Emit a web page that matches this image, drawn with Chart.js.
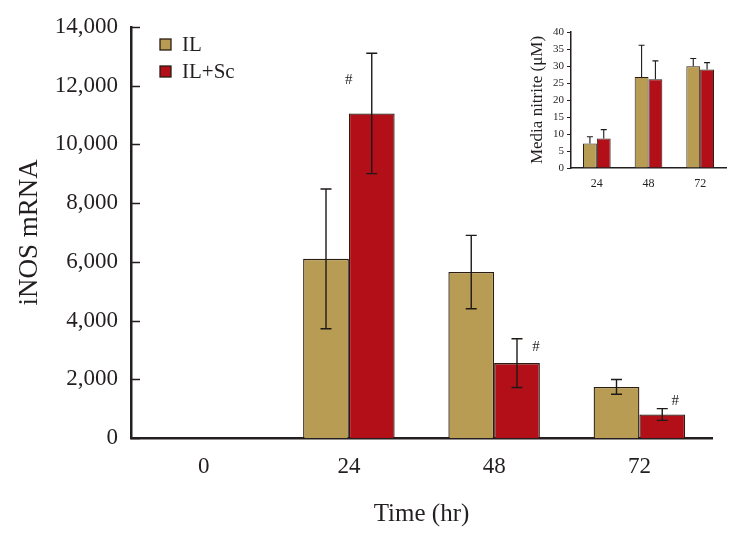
<!DOCTYPE html>
<html>
<head>
<meta charset="utf-8">
<script src="https://cdn.jsdelivr.net/npm/chart.js@4"></script>
<style>
  body { margin: 0; background: #fff; }
  #wrap { position: relative; width: 736px; height: 533px; }
  #mainChart { position: absolute; left: 0; top: 0; }
  #insetChart { position: absolute; left: 505px; top: 18px; }
</style>
</head>
<body>
<div id="wrap">
  <canvas id="mainChart" width="736" height="533"></canvas>
  <canvas id="insetChart" width="231" height="185"></canvas>
</div>
<script>
// main chart data (iNOS mRNA)
let categories = ['0', '24', '48', '72'];
let ilValues = [null, 6100, 5650, 1740];
let ilErrors = [null, 2380, 1250, 250];
let ilScValues = [null, 11050, 2550, 800];
let ilScErrors = [null, 2050, 830, 200];
// value level of the "#" marks over the IL+Sc bars
let hashLevels = [null, 12200, 3100, 1250];
let yTicks = [0, 2000, 4000, 6000, 8000, 10000, 12000, 14000];

// inset data (media nitrite)
let insetCategories = ['24', '48', '72'];
let insetIl = [7.2, 26.8, 29.9];
let insetIlErr = [2.0, 9.3, 2.3];
let insetSc = [8.7, 26.1, 29.0];
let insetScErr = [2.6, 5.4, 2.0];
let insetTicks = [0, 5, 10, 15, 20, 25, 30, 35, 40];

const GOLD = '#b89c53';
const RED = '#b20f19';
const EDGE = '#2a1c12';
const INK = '#231f20';
const SERIF = "'Liberation Serif', 'DejaVu Serif', serif";

Chart.defaults.font.family = SERIF;
Chart.defaults.color = INK;

// error bars drawn through the y scale
const errorBars = {
    id: 'errorBars',
    afterDatasetsDraw(chart, args, opts) {
        const ctx = chart.ctx;
        const y = chart.scales.y;
        ctx.save();
        ctx.strokeStyle = opts.color;
        ctx.lineWidth = opts.width;
        chart.data.datasets.forEach(function(ds, di) {
            const meta = chart.getDatasetMeta(di);
            const errs = opts.errors[di];
            meta.data.forEach(function(bar, i) {
                const v = ds.data[i];
                if (v == null || errs[i] == null) return;
                const top = y.getPixelForValue(v + errs[i]);
                const bottom = opts.upperOnly ? y.getPixelForValue(v) : y.getPixelForValue(v - errs[i]);
                ctx.beginPath();
                ctx.moveTo(bar.x, top);
                ctx.lineTo(bar.x, bottom);
                ctx.moveTo(bar.x - opts.cap / 2, top);
                ctx.lineTo(bar.x + opts.cap / 2, top);
                if (!opts.upperOnly) {
                    ctx.moveTo(bar.x - opts.cap / 2, bottom);
                    ctx.lineTo(bar.x + opts.cap / 2, bottom);
                }
                ctx.stroke();
            });
        });
        ctx.restore();
    }
};

// inward tick marks on the main y axis, "#" marks and the legend
const extras = {
    id: 'extras',
    afterDraw(chart) {
        const ctx = chart.ctx;
        const y = chart.scales.y;
        const area = chart.chartArea;
        ctx.save();
        ctx.strokeStyle = INK;
        ctx.lineWidth = 1.5;
        y.ticks.forEach(function(t) {
            const py = Math.round(y.getPixelForValue(t.value)) + 0.5;
            ctx.beginPath();
            ctx.moveTo(area.left, py);
            ctx.lineTo(area.left + 9, py);
            ctx.stroke();
        });

        // "#" next to the IL+Sc bars
        const meta = chart.getDatasetMeta(1);
        const hashDx = [0, -23, 19, 13];
        ctx.fillStyle = INK;
        ctx.font = '15px ' + SERIF;
        ctx.textAlign = 'center';
        ctx.textBaseline = 'middle';
        meta.data.forEach(function(bar, i) {
            if (hashLevels[i] == null) return;
            ctx.fillText('#', bar.x + hashDx[i], y.getPixelForValue(hashLevels[i]));
        });

        // legend
        ctx.font = '21px ' + SERIF;
        ctx.textAlign = 'left';
        chart.data.datasets.forEach(function(ds, di) {
            const cy = 45 + di * 27;
            ctx.fillStyle = ds.backgroundColor;
            ctx.fillRect(160, cy - 6, 11, 11);
            ctx.strokeStyle = EDGE;
            ctx.lineWidth = 1.3;
            ctx.strokeRect(160, cy - 6, 11, 11);
            ctx.fillStyle = INK;
            ctx.fillText(ds.label, 182, cy);
        });
        ctx.restore();
    }
};

new Chart(document.getElementById('mainChart'), {
    type: 'bar',
    data: {
        labels: categories,
        datasets: [
            { label: 'IL', data: ilValues, backgroundColor: GOLD, borderColor: EDGE, borderWidth: 1.3 },
            { label: 'IL+Sc', data: ilScValues, backgroundColor: RED, borderColor: EDGE, borderWidth: 1.3 }
        ]
    },
    options: {
        responsive: false,
        animation: false,
        devicePixelRatio: 1,
        layout: { padding: { left: 0, top: 22, right: 24, bottom: 0 } },
        datasets: { bar: { barPercentage: 1.0, categoryPercentage: 0.63 } },
        plugins: {
            legend: { display: false },
            tooltip: { enabled: false },
            errorBars: { errors: [ilErrors, ilScErrors], upperOnly: false, cap: 11, color: '#1e1a18', width: 1.4 }
        },
        scales: {
            x: {
                grid: { display: false, drawTicks: false },
                border: { display: true, color: INK, width: 2.5 },
                ticks: { font: { size: 23 }, padding: 15 },
                title: { display: true, text: 'Time (hr)', font: { size: 25 }, padding: { top: 18 } },
                afterFit: function(scale) { scale.height = 95; }
            },
            y: {
                min: 0,
                max: 14000,
                afterBuildTicks: function(scale) {
                    scale.ticks = yTicks.map(function(v) { return { value: v }; });
                },
                grid: { display: false, drawTicks: false },
                border: { display: true, color: INK, width: 2.5 },
                ticks: {
                    font: { size: 23 },
                    padding: 13,
                    callback: function(v) { return v.toLocaleString('en-US'); }
                },
                title: { display: true, text: 'iNOS mRNA', font: { size: 27 }, padding: { top: 14, bottom: 0 } },
                afterFit: function(scale) { scale.width = 131; }
            }
        }
    },
    plugins: [errorBars, extras]
});

new Chart(document.getElementById('insetChart'), {
    type: 'bar',
    data: {
        labels: insetCategories,
        datasets: [
            { label: 'IL', data: insetIl, backgroundColor: GOLD, borderColor: EDGE, borderWidth: 1 },
            { label: 'IL+Sc', data: insetSc, backgroundColor: RED, borderColor: EDGE, borderWidth: 1 }
        ]
    },
    options: {
        responsive: false,
        animation: false,
        devicePixelRatio: 1,
        layout: { padding: { left: 0, top: 14, right: 10, bottom: 0 } },
        datasets: { bar: { barPercentage: 1.0, categoryPercentage: 0.535 } },
        plugins: {
            legend: { display: false },
            tooltip: { enabled: false },
            errorBars: { errors: [insetIlErr, insetScErr], upperOnly: true, cap: 6, color: '#1e1a18', width: 1.1 }
        },
        scales: {
            x: {
                grid: { display: false, drawTicks: false },
                border: { display: true, color: INK, width: 1.5 },
                ticks: { font: { size: 12 }, padding: 9 },
                afterFit: function(scale) { scale.height = 35; }
            },
            y: {
                min: 0,
                max: 40,
                afterBuildTicks: function(scale) {
                    scale.ticks = insetTicks.map(function(v) { return { value: v }; });
                },
                ticks: { autoSkip: false, font: { size: 11 }, padding: 3 },
                grid: { display: true, drawOnChartArea: false, drawTicks: true, tickLength: 4, color: INK, lineWidth: 1 },
                border: { display: true, color: INK, width: 1.5 },
                title: { display: true, text: 'Media nitrite (μM)', font: { size: 17 }, padding: { top: 22, bottom: 0 } },
                afterFit: function(scale) { scale.width = 66; }
            }
        }
    },
    plugins: [errorBars]
});
</script>
</body>
</html>
